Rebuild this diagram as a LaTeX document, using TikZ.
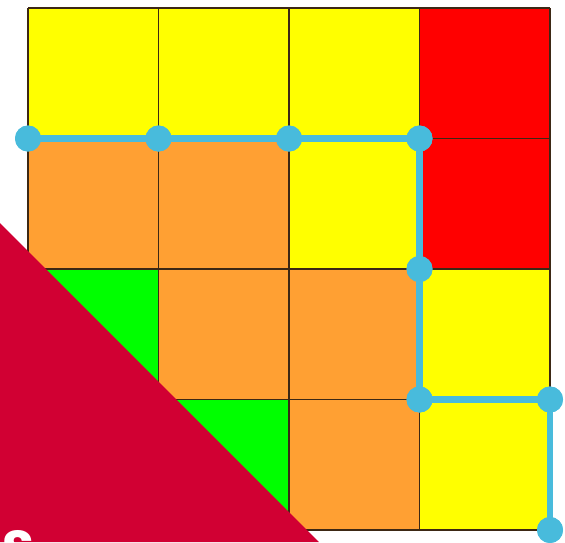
\documentclass[tikz,border=0pt]{standalone}
\usepackage{fontspec}
\newfontfamily\sfont{Poppins}
\definecolor{cyel}{RGB}{255,255,0}
\definecolor{cred}{RGB}{255,0,0}
\definecolor{corg}{RGB}{255,160,51}
\definecolor{cgrn}{RGB}{0,255,0}
\definecolor{ccrim}{RGB}{209,0,51}
\definecolor{cblue}{RGB}{72,187,220}
\definecolor{cgrid}{RGB}{60,40,20}
\begin{document}
\begin{tikzpicture}[x=0.5pt,y=-0.5pt,
  cell/.style={draw=cgrid,line width=0.7pt},
  pathline/.style={draw=cblue,line width=3.2pt},
  dot/.style={circle,fill=cblue,minimum size=13pt,inner sep=0pt}]
\useasboundingbox (0,0) rectangle (565,542);
\clip (0,0) rectangle (565,542);
% cells: rows top to bottom
\foreach \row [count=\r from 0] in {{cyel,cyel,cyel,cred},{corg,corg,cyel,cred},{cgrn,corg,corg,cyel},{cgrn,cgrn,corg,cyel}}{
  \foreach \col [count=\c from 0] in \row {
    \pgfmathsetmacro\xa{28+130.5*\c}
    \pgfmathsetmacro\ya{8+130.5*\r}
    \fill[\col] (\xa,\ya) rectangle ++(130.5,130.5);
  }
}
\foreach \i in {0,...,4}{
  \draw[cell] ({28+130.5*\i},8) -- ({28+130.5*\i},530);
  \draw[cell] (28,{8+130.5*\i}) -- (550,{8+130.5*\i});
}
% path
\node[dot] (p1) at (28,138.5) {};
\node[dot] (p2) at (158.5,138.5) {};
\node[dot] (p3) at (289,138.5) {};
\node[dot] (p4) at (419.5,138.5) {};
\node[dot] (p5) at (419.5,269) {};
\node[dot] (p6) at (419.5,399.5) {};
\node[dot] (p7) at (550,399.5) {};
\node[dot] (p8) at (550,530) {};
\draw[pathline] (p1.center) -- (p2.center) -- (p3.center) -- (p4.center) -- (p5.center) -- (p6.center) -- (p7.center) -- (p8.center);
\foreach \p in {p1,p2,p3,p4,p5,p6,p7,p8}{\fill[cblue] (\p) circle (6.5pt);}
% crimson triangle
\fill[ccrim] (0,223) -- (0,542) -- (319,542) -- cycle;
\node[anchor=base west,inner sep=0pt,text=white,font=\sfont\bfseries\fontsize{26pt}{30pt}\selectfont] (s) at (2,567) {S};
\end{tikzpicture}
\end{document}
